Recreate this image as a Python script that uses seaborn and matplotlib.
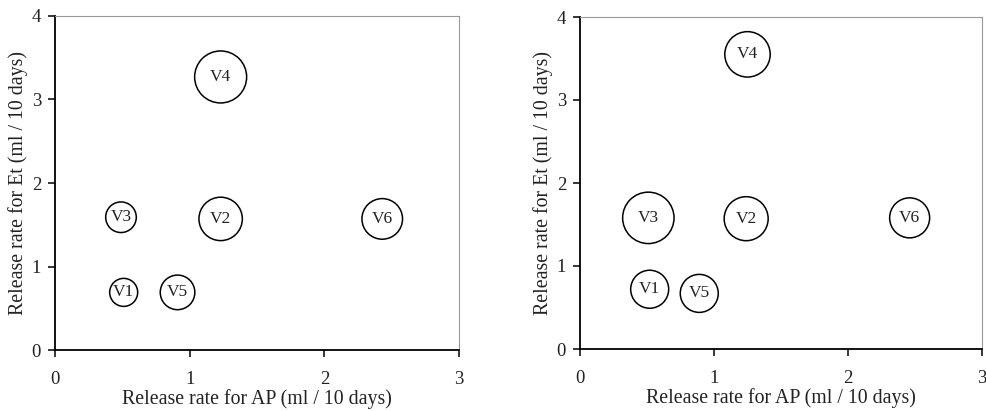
import numpy as np
import matplotlib
matplotlib.use("Agg")
import matplotlib.pyplot as plt
import seaborn as sns

# bubble labels and values
labels = ["V1", "V2", "V3", "V4", "V5", "V6"]

# left panel
ap_left = [0.51, 1.23, 0.49, 1.23, 0.91, 2.43]
et_left = [0.69, 1.57, 1.59, 3.27, 0.69, 1.57]
bubble_left = [14.0, 21.7, 15.3, 26.0, 17.3, 20.3]

# right panel
ap_right = [0.52, 1.24, 0.51, 1.25, 0.89, 2.46]
et_right = [0.72, 1.57, 1.58, 3.55, 0.67, 1.58]
bubble_right = [19.0, 22.0, 25.7, 22.7, 19.0, 20.0]

sns.set_theme(style="white")
plt.rcParams["font.family"] = ["Liberation Serif", "DejaVu Serif"]


def draw_panel(ax, xs, ys, radii):
    # radius in px -> marker area in points^2 (dpi 100)
    s = [(2 * r * 0.72) ** 2 for r in radii]
    sns.scatterplot(x=xs, y=ys, s=s, facecolor="white", edgecolor="black",
                    linewidth=1.1, ax=ax, legend=False, zorder=3)
    for lab, x, y in zip(labels, xs, ys):
        ax.text(x, y, lab, ha="center", va="center", fontsize=12.5,
                color="#222222", zorder=4)
    ax.set_xlim(0, 3)
    ax.set_ylim(0, 4)
    ax.set_xticks([0, 1, 2, 3])
    ax.set_yticks([0, 1, 2, 3, 4])
    ax.set_xlabel("Release rate for AP (ml / 10 days)", fontsize=14.3,
                  labelpad=1, color="#222222")
    ax.set_ylabel("Release rate for Et (ml / 10 days)", fontsize=14.3,
                  labelpad=3, color="#222222")
    ax.tick_params(axis="both", direction="out", length=5, width=1.1,
                   colors="black", labelcolor="#222222", labelsize=13.5)
    ax.tick_params(axis="x", bottom=True, pad=10)
    ax.tick_params(axis="y", left=True, pad=5)
    for side in ["left", "bottom"]:
        ax.spines[side].set_color("black")
        ax.spines[side].set_linewidth(1.3)
    for side in ["top", "right"]:
        ax.spines[side].set_color("#999999")
        ax.spines[side].set_linewidth(0.8)


fig = plt.figure(figsize=(9.86, 4.11), dpi=100)
ax1 = fig.add_axes([55 / 986, 61 / 411, 404 / 986, 334 / 411])
ax2 = fig.add_axes([580 / 986, 62 / 411, 402 / 986, 332 / 411])

draw_panel(ax1, ap_left, et_left, bubble_left)
draw_panel(ax2, ap_right, et_right, bubble_right)

fig.savefig("out.png", dpi=100, facecolor="white")
